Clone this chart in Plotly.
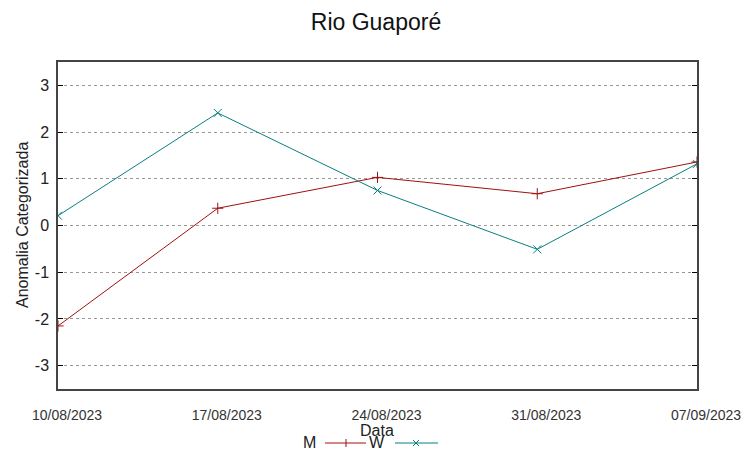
import plotly.graph_objects as go

dates = ["10/08/2023", "17/08/2023", "24/08/2023", "31/08/2023", "07/09/2023"]
m_values = [-2.15, 0.37, 1.03, 0.68, 1.36]
w_values = [0.21, 2.41, 0.75, -0.51, 1.32]
y_ticks = [-3, -2, -1, 0, 1, 2, 3]
y_tick_text = ["-3", "-2", "-1", "0", "1", "2", "3"]

RED = "#a01010"
TEAL = "#087f80"
FONT = "Liberation Sans, Arial, sans-serif"

fig = go.Figure()
fig.add_trace(go.Scatter(x=dates, y=m_values, mode="lines+markers", name="M",
                         line=dict(color=RED, width=1),
                         marker=dict(symbol="cross-thin", size=8, line=dict(color=RED, width=1))))
fig.add_trace(go.Scatter(x=dates, y=w_values, mode="lines+markers", name="W",
                         line=dict(color=TEAL, width=1),
                         marker=dict(symbol="x-thin", size=8, line=dict(color=TEAL, width=1))))

fig.update_layout(
    width=752, height=459,
    margin=dict(l=58, r=55, t=62, b=70, autoexpand=False),
    paper_bgcolor="white", plot_bgcolor="white",
    showlegend=False,
    font=dict(family=FONT, color="#222"),
    title=dict(text="Rio Guaporé", x=0.5, xanchor="center", y=1 - 22/459, yanchor="middle",
               font=dict(size=23, color="#111", family=FONT)),
)
fig.update_xaxes(type="category", range=[0, len(dates) - 1], showgrid=False, automargin=False,
                 showline=True, linecolor="#444", linewidth=1.5, mirror=True,
                 ticks="", tickfont=dict(size=14, color="#333"), ticklabelstandoff=12,
                 ticklabelshift=9, zeroline=False)
fig.update_yaxes(range=[-3.5, 3.5], tickvals=y_ticks, ticktext=y_tick_text, showgrid=True, gridcolor="#999",
                 griddash="dot", gridwidth=1, automargin=False,
                 showline=True, linecolor="#444", linewidth=1.5, mirror="ticks",
                 ticks="inside", ticklen=5, tickcolor="#000",
                 tickfont=dict(size=16, color="#222"), ticklabelstandoff=4, zeroline=False)

def ly(py):
    return -(py - 389) / 327
def lx(px):
    return (px - 58) / 639

# axis titles
fig.add_annotation(text="Data", xref="paper", yref="paper", x=lx(377), y=ly(430),
                   showarrow=False, yanchor="middle", font=dict(size=16, color="#222"))
fig.add_annotation(text="Anomalia Categorizada", xref="paper", yref="paper", x=lx(22), y=ly(225),
                   showarrow=False, xanchor="center", yanchor="middle", textangle=-90,
                   font=dict(size=16, color="#222"))

# legend (gnuplot style: label then sample)
leg_y = 443
fig.add_annotation(text="M", xref="paper", yref="paper", x=lx(318), y=ly(leg_y), xanchor="right",
                   yanchor="middle", showarrow=False, font=dict(size=16, color="#222"))
fig.add_annotation(text="W", xref="paper", yref="paper", x=lx(387), y=ly(leg_y), xanchor="right",
                   yanchor="middle", showarrow=False, font=dict(size=16, color="#222"))
fig.add_shape(type="line", xref="paper", yref="paper", x0=lx(325), x1=lx(366), y0=ly(leg_y), y1=ly(leg_y),
              line=dict(color=RED, width=1))
fig.add_shape(type="line", xref="paper", yref="paper", x0=lx(346), x1=lx(346), y0=ly(leg_y - 4), y1=ly(leg_y + 4),
              line=dict(color=RED, width=1))
fig.add_shape(type="line", xref="paper", yref="paper", x0=lx(395), x1=lx(438), y0=ly(leg_y), y1=ly(leg_y),
              line=dict(color=TEAL, width=1))
fig.add_shape(type="line", xref="paper", yref="paper", x0=lx(413), x1=lx(419), y0=ly(leg_y - 3), y1=ly(leg_y + 3),
              line=dict(color=TEAL, width=1))
fig.add_shape(type="line", xref="paper", yref="paper", x0=lx(413), x1=lx(419), y0=ly(leg_y + 3), y1=ly(leg_y - 3),
              line=dict(color=TEAL, width=1))

fig.write_html("out.html", config={"displayModeBar": False},
               post_script="document.body.style.margin='0';document.body.style.padding='0';")
